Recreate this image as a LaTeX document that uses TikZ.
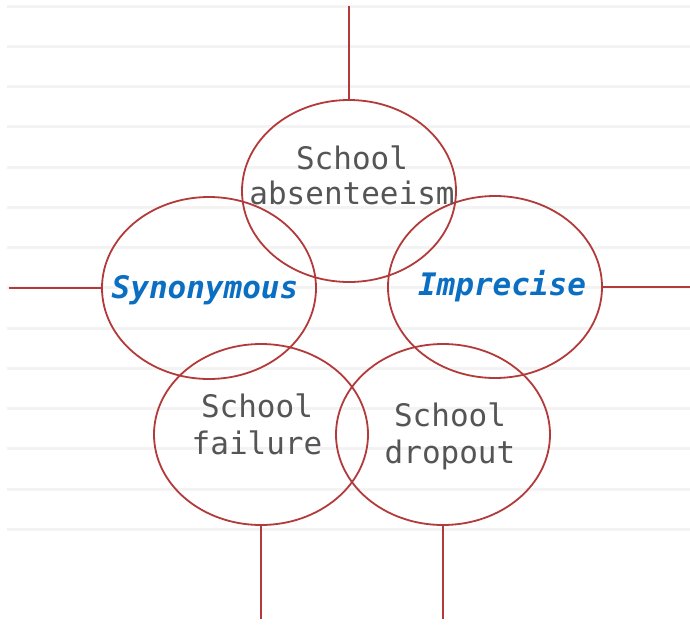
\documentclass[tikz,border=0pt]{standalone}
\usepackage{fontspec}
\setmonofont{DejaVu Sans Mono}
\usetikzlibrary{shapes.geometric}
\definecolor{ring}{HTML}{B33A3A}
\definecolor{rulegray}{HTML}{F3F3F3}
\definecolor{txtgray}{HTML}{555555}
\definecolor{blu}{HTML}{0A6FC2}
\tikzset{
  ell/.style={draw=ring, line width=1.8pt, ellipse, inner sep=0pt, minimum width=214pt, minimum height=182pt},
  conn/.style={draw=ring, line width=1.8pt},
  bgrule/.style={draw=rulegray, line width=3pt},
  lbl/.style={text=txtgray, font=\ttfamily\fontsize{31}{37}\selectfont, align=center, inner sep=0pt},
  key/.style={text=blu, font=\ttfamily\bfseries\itshape\fontsize{31}{37}\selectfont, inner sep=0pt}
}
\begin{document}
\begin{tikzpicture}[x=1pt,y=-1pt]
\useasboundingbox (0,0) rectangle (690,624);
\fill[white] (0,0) rectangle (690,624);
\foreach \k in {0,...,13}{
  \draw[bgrule] (7,{6+40.25*\k}) -- (690,{6+40.25*\k});
}
\node[ell] (abs) at (349,191) {};
\node[ell] (syn) at (209,288) {};
\node[ell] (imp) at (495,287) {};
\node[ell, minimum height=181pt] (fail) at (261,434.5) {};
\node[ell, minimum height=181pt] (drop) at (443,434.5) {};
\coordinate (ctop) at (349,6);
\coordinate (cleft) at (9,288);
\coordinate (cright) at (690,287);
\coordinate (cbl) at (261,619);
\coordinate (cbr) at (443,619);
\draw[conn] (abs.north) -- (ctop);
\draw[conn] (syn.west) -- (cleft);
\draw[conn] (imp.east) -- (cright);
\draw[conn] (fail.south) -- (cbl);
\draw[conn] (drop.south) -- (cbr);
\node[lbl, font=\ttfamily\fontsize{31}{35}\selectfont] (tabs) at (352,175) {School\\absenteeism};
\node[lbl] (tfail) at (257,424.5) {School\\failure};
\node[lbl] (tdrop) at (450,436) {School\\dropout};
\node[key] (tsyn) at (205,290) {Synonymous};
\node[key] (timp) at (502,286) {Imprecise};
\end{tikzpicture}
\end{document}
